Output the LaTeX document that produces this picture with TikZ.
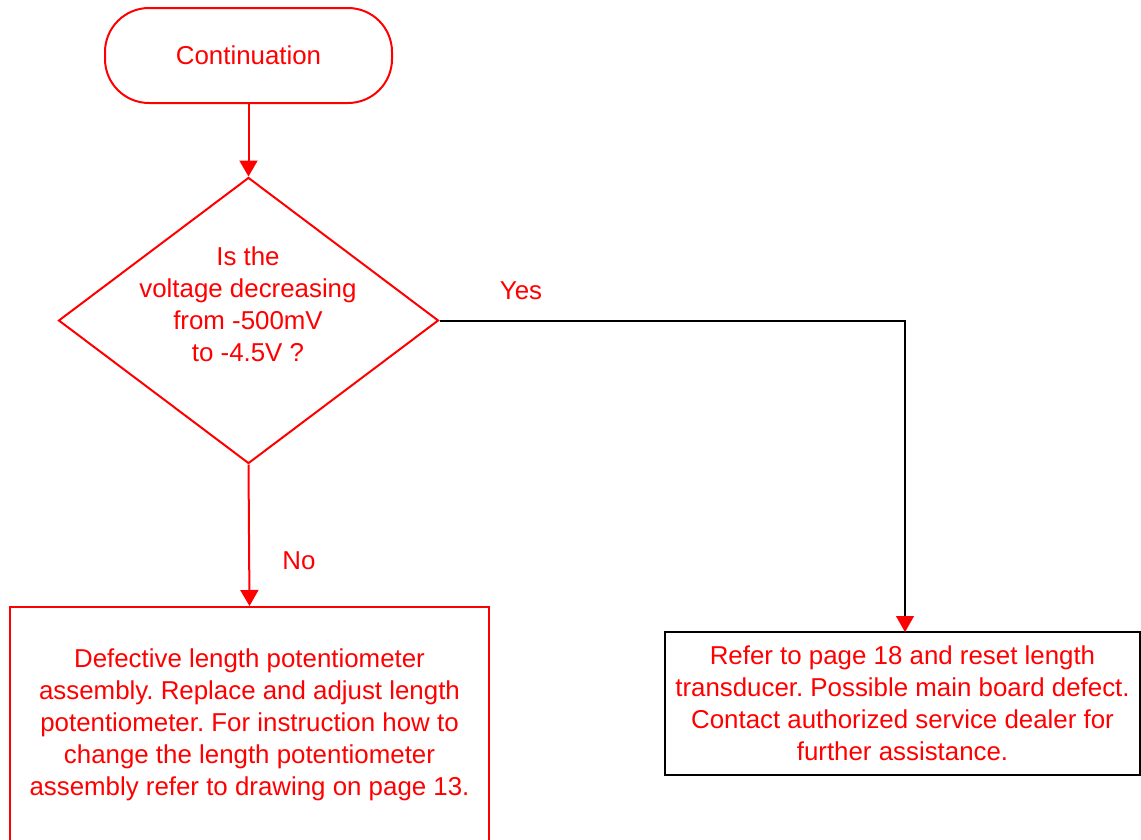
\documentclass[tikz,border=0pt]{standalone}
\usepackage{fontspec}
\setmainfont{Liberation Sans}
\usetikzlibrary{arrows.meta,shapes.geometric}
\definecolor{fcred}{RGB}{255,0,0}
\frenchspacing
\begin{document}
\begin{tikzpicture}[x=0.75pt,y=-0.75pt,
  txt/.style={text=fcred,font={\fontsize{19.4}{24}\selectfont},align=center,inner sep=0pt},
  redline/.style={draw=fcred,line width=1.5pt},
  blackline/.style={draw=black,line width=1.5pt},
  tip/.style={-{Triangle[width=13.5pt,length=12pt,fill=fcred,color=fcred]}},
  term/.style={redline,rectangle,rounded corners=33pt,minimum width=215.25pt,minimum height=71.25pt,inner sep=0pt},
  dec/.style={redline,diamond,minimum width=285pt,minimum height=214.5pt,inner sep=0pt},
  box/.style={rectangle,inner sep=0pt}
]
\useasboundingbox (0,0) rectangle (1141,839);
\fill[white] (0,0) rectangle (1141,839);

\node[term,txt] (start) at (248.5,55.5) {Continuation};
\node[dec] (dia) at (248.5,320.5) {};
\node[txt] (q) at (248,304) {Is the\\voltage decreasing\\from -500mV\\to -4.5V ?};
\node[box,redline,minimum width=359.25pt,minimum height=177pt,txt] (lbox) at (249.5,725)
  {Defective length potentiometer\\assembly. Replace and adjust length\\potentiometer. For instruction how to\\change the length potentiometer\\assembly refer to drawing on page 13.};
\node[box,blackline,minimum width=356.25pt,minimum height=107.25pt,txt] (rbox) at (902.5,703.5)
  {Refer to page 18 and reset length\\transducer. Possible main board defect.\\Contact authorized service dealer for\\further assistance.};

\coordinate (rin) at (905,632);
\coordinate (rpre) at (905,616);

\draw[redline,tip] (start.south) -- (dia.north);
\draw[redline,tip] (dia.south) -- (lbox.north);
\draw[blackline] (dia.east) -| (rpre);
\draw[draw=fcred,line width=0.1pt,tip] (rpre) -- (rin);

\node[txt] (yes) at (521,291) {Yes};
\node[txt] (no) at (299,561) {No};
\end{tikzpicture}
\end{document}
